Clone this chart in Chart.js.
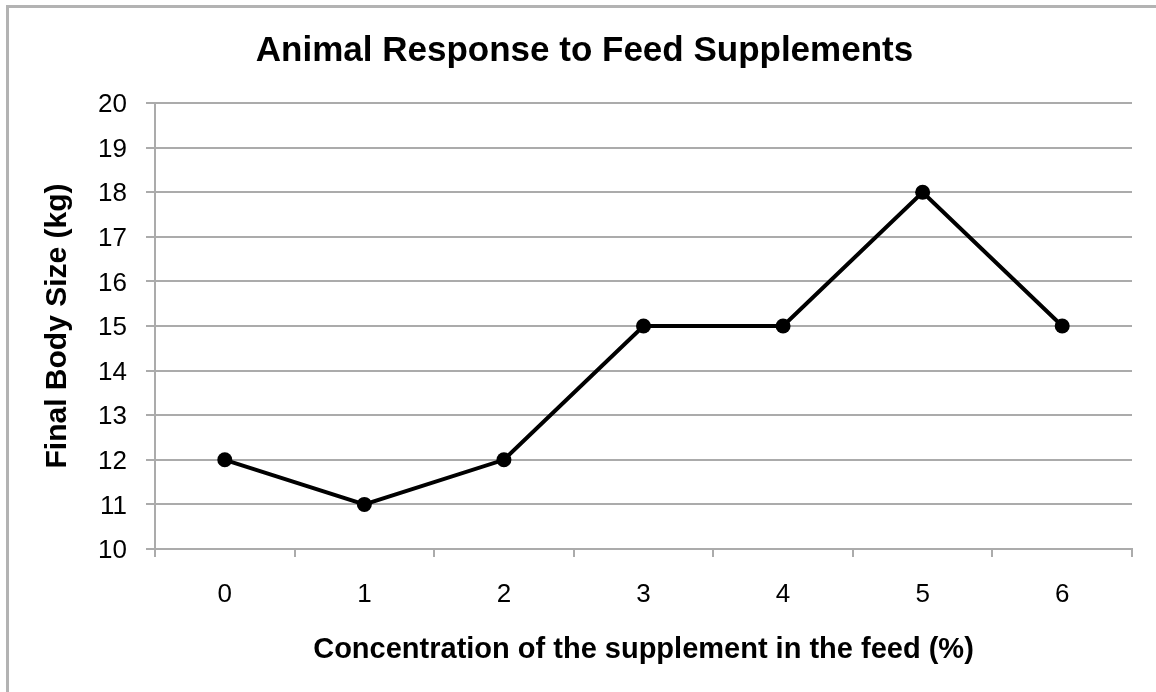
<!DOCTYPE html>
<html>
<head>
<meta charset="utf-8">
<script src="https://cdn.jsdelivr.net/npm/chart.js@4/dist/chart.umd.min.js"></script>
<style>
  html, body { margin: 0; padding: 0; background: #fff; }
  #frame {
    position: absolute; left: 6px; top: 5px; right: 0; bottom: 0;
    border-left: 3px solid #b3b3b3; border-top: 3px solid #b3b3b3;
  }
  #wrap { position: absolute; left: 0; top: 0; width: 1156px; height: 692px; }
</style>
</head>
<body>
<div id="frame"></div>
<div id="wrap"><canvas id="lineChart" width="1156" height="692"></canvas></div>
<script>
const concentrations = ['0', '1', '2', '3', '4', '5', '6'];
const bodySizes = [12, 11, 12, 15, 15, 18, 15];
const yMin = 10;
const yMax = 20;

const fontFamily = '"Liberation Sans", Arial, Helvetica, sans-serif';
const gridColor = '#ababab';

var ctx = document.getElementById('lineChart').getContext('2d');
var lineChart = new Chart(ctx, {
    type: 'line',
    data: {
        labels: concentrations,
        datasets: [{
            label: 'Final Body Size (kg)',
            data: bodySizes,
            borderColor: '#000',
            backgroundColor: '#000',
            borderWidth: 4,
            pointRadius: 7.5,
            pointHoverRadius: 7.5,
            pointBackgroundColor: '#000',
            pointBorderWidth: 0,
            tension: 0
        }]
    },
    options: {
        responsive: false,
        animation: false,
        layout: { padding: { left: 37, right: 24, top: 0, bottom: 0 } },
        plugins: {
            legend: { display: false },
            tooltip: { enabled: false },
            title: {
                display: true,
                text: 'Animal Response to Feed Supplements',
                color: '#000',
                font: { family: fontFamily, size: 35, weight: 'bold' },
                padding: { top: 30, bottom: 31 }
            }
        },
        scales: {
            x: {
                type: 'category',
                offset: true,
                grid: {
                    offset: true,
                    drawOnChartArea: false,
                    drawTicks: true,
                    tickLength: 8,
                    color: gridColor,
                    lineWidth: 2
                },
                border: { color: gridColor, width: 2 },
                ticks: {
                    color: '#000',
                    padding: 22,
                    font: { family: fontFamily, size: 26 }
                },
                title: {
                    display: true,
                    text: 'Concentration of the supplement in the feed (%)',
                    color: '#000',
                    font: { family: fontFamily, size: 29, weight: 'bold' },
                    padding: { top: 0, bottom: 25 }
                },
                afterFit: function (scale) { scale.height = 143; }
            },
            y: {
                min: yMin,
                max: yMax,
                grid: {
                    color: gridColor,
                    lineWidth: 2,
                    drawTicks: true,
                    tickLength: 9
                },
                border: { color: gridColor, width: 2 },
                ticks: {
                    stepSize: 1,
                    color: '#000',
                    padding: 19,
                    labelOffset: 2,
                    font: { family: fontFamily, size: 26 }
                },
                title: {
                    display: true,
                    text: 'Final Body Size (kg)',
                    color: '#000',
                    font: { family: fontFamily, size: 30, weight: 'bold' },
                    padding: { top: 3, bottom: 0 }
                },
                afterFit: function (scale) { scale.width = 118; }
            }
        }
    }
});
</script>
</body>
</html>
